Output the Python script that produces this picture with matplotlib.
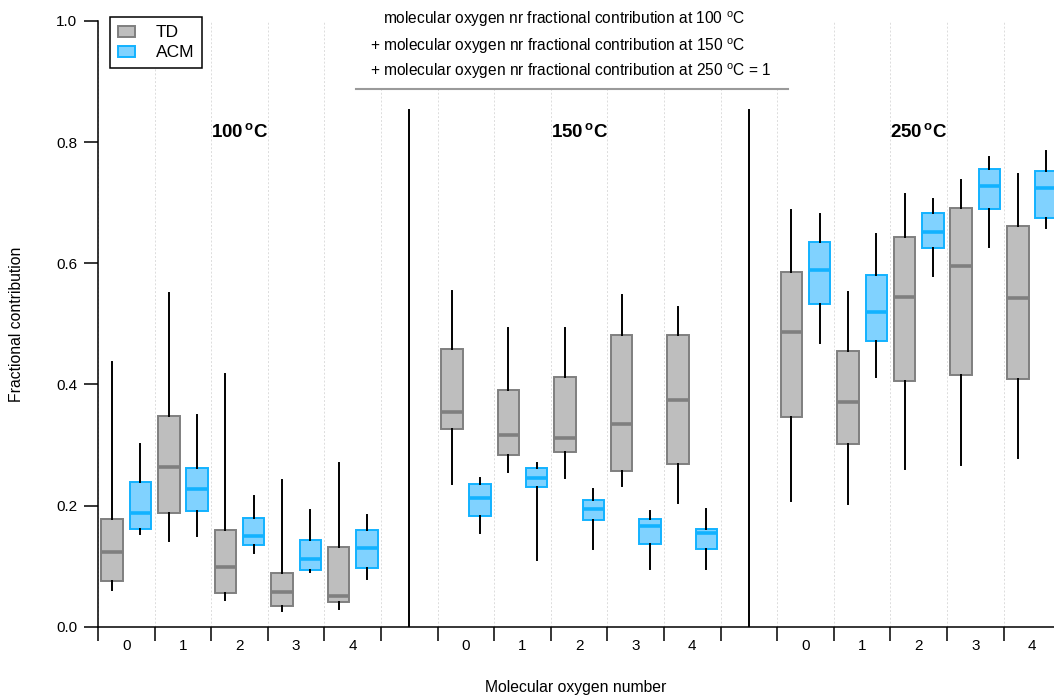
import matplotlib
matplotlib.use("Agg")
import matplotlib.pyplot as plt
from matplotlib.patches import Patch, Rectangle

plt.rcParams['font.family'] = ['Liberation Sans', 'DejaVu Sans']
plt.rcParams['mathtext.fontset'] = 'custom'
plt.rcParams['mathtext.rm'] = 'Liberation Sans'
plt.rcParams['mathtext.bf'] = 'Liberation Sans:bold'

# -------------------------------
# data (per temperature 100, 150, 250 C; oxygen number 0-4)
# -------------------------------
temps = ["100", "150", "250"]
oxygen_numbers = ["0", "1", "2", "3", "4"]

td_whishi = [0.437, 0.551, 0.417, 0.243, 0.271,
             0.555, 0.493, 0.493, 0.547, 0.528,
             0.688, 0.552, 0.715, 0.738, 0.747]
td_q3 = [0.178, 0.348, 0.159, 0.088, 0.132,
         0.459, 0.390, 0.412, 0.482, 0.482,
         0.586, 0.455, 0.643, 0.692, 0.661]
td_med = [0.123, 0.264, 0.098, 0.058, 0.051,
          0.355, 0.316, 0.312, 0.335, 0.375,
          0.487, 0.371, 0.545, 0.595, 0.543]
td_q1 = [0.076, 0.187, 0.056, 0.034, 0.041,
         0.327, 0.284, 0.288, 0.257, 0.268,
         0.347, 0.301, 0.406, 0.416, 0.409]
td_whislo = [0.060, 0.142, 0.044, 0.026, 0.030,
             0.236, 0.255, 0.246, 0.232, 0.204,
             0.207, 0.202, 0.260, 0.267, 0.279]

acm_whishi = [0.301, 0.350, 0.216, 0.192, 0.184,
              0.246, 0.271, 0.228, 0.191, 0.194,
              0.682, 0.648, 0.706, 0.776, 0.786]
acm_q3 = [0.239, 0.262, 0.180, 0.143, 0.160,
          0.235, 0.262, 0.209, 0.178, 0.162,
          0.635, 0.580, 0.683, 0.755, 0.752]
acm_med = [0.187, 0.227, 0.149, 0.111, 0.130,
           0.212, 0.245, 0.195, 0.166, 0.154,
           0.589, 0.519, 0.652, 0.728, 0.725]
acm_q1 = [0.161, 0.191, 0.135, 0.094, 0.097,
          0.183, 0.231, 0.176, 0.137, 0.129,
          0.533, 0.472, 0.625, 0.689, 0.674]
acm_whislo = [0.153, 0.150, 0.122, 0.090, 0.078,
              0.155, 0.110, 0.128, 0.095, 0.095,
              0.468, 0.413, 0.579, 0.627, 0.659]

td_face, td_edge = "#bebebe", "#7f7f7f"
acm_face, acm_edge = "#80d2ff", "#12b2ff"


def make_stats(lo, q1, med, q3, hi):
    return [dict(whislo=a, q1=b, med=c, q3=d, whishi=e, fliers=[])
            for a, b, c, d, e in zip(lo, q1, med, q3, hi)]


# slot index: each temperature block has 5 slots + 1 gap slot
slots = [g * 6 + n for g in range(len(temps)) for n in range(len(oxygen_numbers))]

fig = plt.figure(figsize=(10.54, 6.98), dpi=100)
ax = fig.add_axes([98 / 1054, 71.3 / 698, 956 / 1054, 605.7 / 698])


def draw(stats, pos, face, edge):
    ax.bxp(stats, positions=pos, widths=0.38, showcaps=False, showfliers=False,
           patch_artist=True, manage_ticks=False,
           boxprops=dict(facecolor=face, edgecolor=edge, linewidth=1.4),
           medianprops=dict(color=edge, linewidth=2.6),
           whiskerprops=dict(color="black", linewidth=1.4))


draw(make_stats(td_whislo, td_q1, td_med, td_q3, td_whishi),
     [s + 0.25 for s in slots], td_face, td_edge)
draw(make_stats(acm_whislo, acm_q1, acm_med, acm_q3, acm_whishi),
     [s + 0.75 for s in slots], acm_face, acm_edge)

# separators between temperature blocks
for g in range(1, len(temps)):
    ax.plot([g * 6 - 0.5, g * 6 - 0.5], [0, 0.853], color="black", lw=1.4, zorder=3)

# temperature labels
for g, t in enumerate(temps):
    ax.text(g * 6 + 2.5, 0.816, r"$\mathbf{" + t + r"^{\,o}C}$", ha="center", va="center",
            fontsize=13.5)

ax.set_xlim(0, 16.89)
ax.set_ylim(0, 1.0)
ax.set_yticks([0, 0.2, 0.4, 0.6, 0.8, 1.0])
ax.set_yticklabels(["0.0", "0.2", "0.4", "0.6", "0.8", "1.0"])
ax.set_xticks(range(0, 17))
ax.set_xticklabels([])
ax.set_xticks([s + 0.5 for s in slots], minor=True)
ax.set_xticklabels(oxygen_numbers * len(temps), minor=True)
ax.tick_params(axis="both", which="major", length=10, width=1.1, labelsize=11, pad=5)
ax.tick_params(axis="x", which="minor", length=0, labelsize=11, pad=9)
ax.spines["top"].set_visible(False)
ax.spines["right"].set_visible(False)
ax.spines["left"].set_linewidth(1.1)
ax.spines["bottom"].set_linewidth(1.1)
ax.grid(axis="x", which="major", color="#dcdcdc", linestyle=(0, (2, 2)), linewidth=0.7)
ax.set_axisbelow(True)

ax.set_ylabel("Fractional contribution", fontsize=11.3)
ax.set_xlabel("Molecular oxygen number", fontsize=11.3)
ax.yaxis.set_label_coords(-0.085, 0.5)
ax.xaxis.set_label_coords(0.5, -0.101)
ax.yaxis.label.set_va("center")
ax.xaxis.label.set_va("center")

# note at the top
ax.add_patch(Rectangle((4.56, 0.887), 12.19 - 4.56, 0.12, facecolor="white",
                       edgecolor="none", zorder=1.5, clip_on=False))
ax.plot([4.56, 12.19], [0.887, 0.887], color="#9a9a9a", lw=1.5, zorder=2)
note_size = 11.2
ax.text(5.035, 1.003, r"molecular oxygen nr fractional contribution at 100 $^{\mathrm{o}}$C",
        ha="left", va="center", fontsize=note_size, zorder=4)
ax.text(4.806, 0.958, r"+ molecular oxygen nr fractional contribution at 150 $^{\mathrm{o}}$C",
        ha="left", va="center", fontsize=note_size, zorder=4)
ax.text(4.806, 0.917, r"+ molecular oxygen nr fractional contribution at 250 $^{\mathrm{o}}$C = 1",
        ha="left", va="center", fontsize=note_size, zorder=4)

handles = [Patch(facecolor=td_face, edgecolor=td_edge, linewidth=1.4, label="TD"),
           Patch(facecolor=acm_face, edgecolor=acm_edge, linewidth=1.4, label="ACM")]
leg = ax.legend(handles=handles, loc="upper left", bbox_to_anchor=(0.0126, 1.006),
                borderaxespad=0, fontsize=12.5, fancybox=False, framealpha=1,
                edgecolor="black", handlelength=1.0, handleheight=0.6,
                handletextpad=1.2, borderpad=0.45, labelspacing=0.3)
leg.get_frame().set_linewidth(1.1)
leg.set_zorder(5)

fig.savefig("out.png", dpi=100)
